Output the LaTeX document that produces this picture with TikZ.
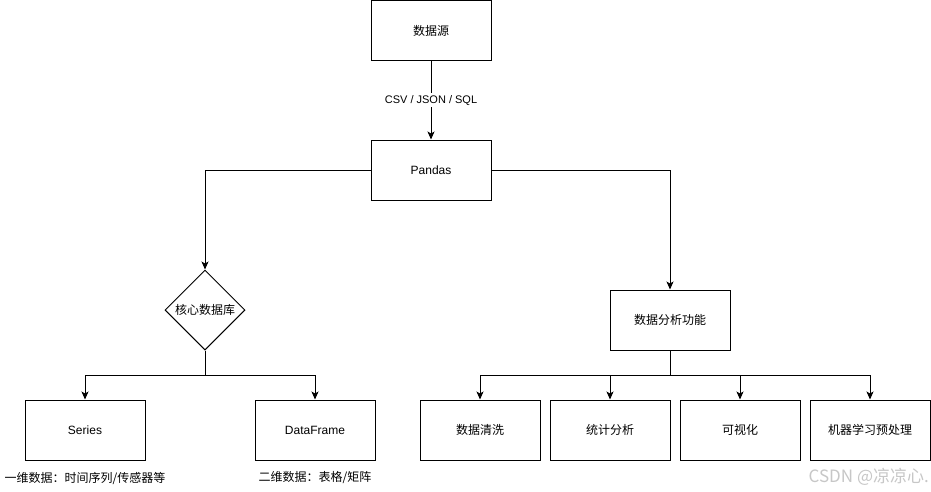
\documentclass[tikz,border=0pt]{standalone}
\usepackage{fontspec}
\setmainfont{Liberation Sans}
\newfontfamily\cjk{Noto Sans CJK SC}
\usetikzlibrary{shapes.geometric,arrows.meta}
\tikzset{
  box/.style={draw, line width=1pt, minimum width=120pt, minimum height=60pt, inner sep=0pt, font=\fontsize{12pt}{14pt}\selectfont\cjk},
  dia/.style={draw, diamond, line width=1pt, minimum width=80pt, minimum height=80pt, inner sep=0pt, font=\fontsize{12pt}{14pt}\selectfont\cjk},
  conn/.style={line width=1pt, -{Stealth[length=8pt,width=7pt,inset=2pt]}},
  plain/.style={line width=1pt},
  note/.style={font=\fontsize{12pt}{14pt}\selectfont\cjk, inner sep=0pt},
  elabel/.style={fill=white, font=\fontsize{11pt}{13pt}\selectfont, inner sep=2pt}
}
\begin{document}
\begin{tikzpicture}[x=1pt,y=-1pt]
\useasboundingbox (0,0) rectangle (931,491);
\fill[white] (0,0) rectangle (931,491);
\node[box] (src) at (431,30.5) {数据源};
\node[box] (pd) at (431,170) {\rmfamily Pandas};
\node[dia] (core) at (205,310) {核心数据库};
\node[box] (func) at (670,320) {数据分析功能};
\node[box] (series) at (85,430) {\rmfamily Series};
\node[box] (df) at (315,430) {\rmfamily DataFrame};
\node[box] (clean) at (480,430) {数据清洗};
\node[box] (stat) at (610,430) {统计分析};
\node[box] (vis) at (740,430) {可视化};
\node[box] (ml) at (870,430) {机器学习预处理};
\node[note] (n1) at (85,478) {一维数据：时间序列/传感器等};
\node[note] (n2) at (315,478) {二维数据：表格/矩阵};
\node[font=\fontsize{17pt}{19pt}\selectfont\cjk, text=black!22, anchor=east, inner sep=0pt] (wm) at (929,477) {CSDN @凉凉心.};
\coordinate (j1) at (205,375);
\coordinate (j2) at (670,375);
\draw[conn] (src) -- node[elabel] {CSV / JSON / SQL} (pd);
\draw[conn] (pd.west) -| (core.north);
\draw[conn] (pd.east) -| (func.north);
\draw[plain] (core.south) -- (j1);
\draw[conn] (j1) -| (series.north);
\draw[conn] (j1) -| (df.north);
\draw[plain] (func.south) -- (j2);
\draw[conn] (j2) -| (clean.north);
\draw[conn] (j2) -| (stat.north);
\draw[conn] (j2) -| (vis.north);
\draw[conn] (j2) -| (ml.north);
\end{tikzpicture}
\end{document}
